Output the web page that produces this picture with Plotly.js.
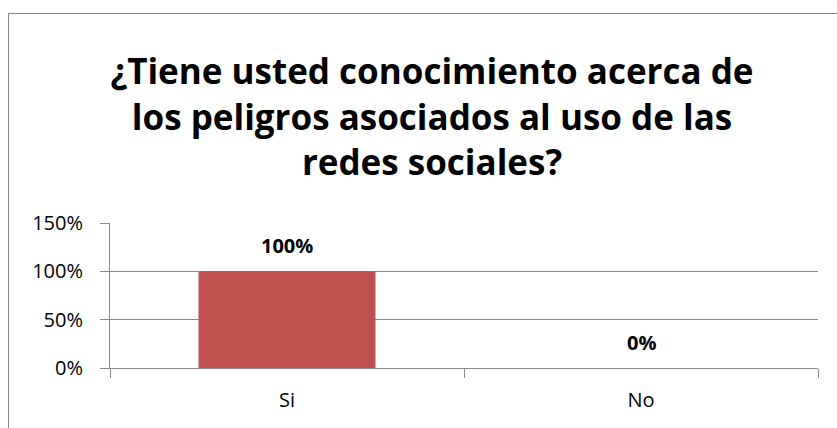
<!DOCTYPE html>
<html>
<head>
<meta charset="utf-8">
<script src="https://cdn.plot.ly/plotly-3.0.1.min.js"></script>
<style>
  html, body { margin: 0; padding: 0; background: #fff; }
  #wrap { position: relative; width: 837px; height: 428px; overflow: hidden; }
  #frame { position: absolute; left: 8px; top: 13px; width: 900px; height: 500px;
           border-left: 1px solid #888; border-top: 1px solid #888; pointer-events: none; }
  #chart { position: absolute; left: 0; top: 0; width: 837px; height: 428px; }
</style>
</head>
<body>
<div id="wrap">
  <div id="chart"></div>
  <div id="frame"></div>
</div>
<script>
const categories = ["Si", "No"];
const values = [1.0, 0.0];
const labels = ["100%", "0%"];
const titleText = "¿Tiene usted conocimiento acerca de<br>los peligros asociados al uso de las<br>redes sociales?";

const fontFam = "Open Sans, Noto Sans, Liberation Sans, sans-serif";

const trace = {
  type: "bar",
  x: categories,
  y: values,
  marker: { color: "#C0504D" },
  width: 0.5,
  hoverinfo: "skip"
};

const annotations = categories.map((c, i) => ({
  x: c, y: values[i], xref: "x", yref: "y",
  text: "<b>" + labels[i] + "</b>",
  showarrow: false, yshift: 26,
  font: { family: fontFam, size: 20, color: "#000" }
}));

const layout = {
  width: 837, height: 428,
  margin: { l: 110, r: 19, t: 223, b: 60, pad: 0 },
  paper_bgcolor: "#fff", plot_bgcolor: "#fff",
  showlegend: false,
  bargap: 0.5,
  title: {
    text: titleText,
    font: { family: fontFam, size: 35, color: "#000", weight: "bold" },
    x: 432 / 837, xanchor: "center", xref: "container",
    y: 1 - 84 / 428, yanchor: "middle", yref: "container"
  },
  xaxis: {
    type: "category",
    showline: true, linecolor: "#888", linewidth: 1,
    ticks: "outside", tickson: "boundaries", ticklen: 9, tickcolor: "#888",
    ticklabelstandoff: 14,
    showgrid: false, zeroline: false,
    tickfont: { family: fontFam, size: 20, color: "#000" }
  },
  yaxis: {
    range: [0, 1.5],
    tickvals: [0, 0.5, 1.0, 1.5],
    ticktext: ["0%", "50%", "100%", "150%"],
    showline: true, linecolor: "#888", linewidth: 1,
    ticks: "outside", ticklen: 9, tickcolor: "#888",
    ticklabelstandoff: 13,
    showgrid: true, gridcolor: "#888", gridwidth: 1,
    zeroline: false,
    tickfont: { family: fontFam, size: 20, color: "#000" }
  },
  annotations: annotations
};

Plotly.newPlot("chart", [trace], layout, { displayModeBar: false, staticPlot: true });
</script>
</body>
</html>
